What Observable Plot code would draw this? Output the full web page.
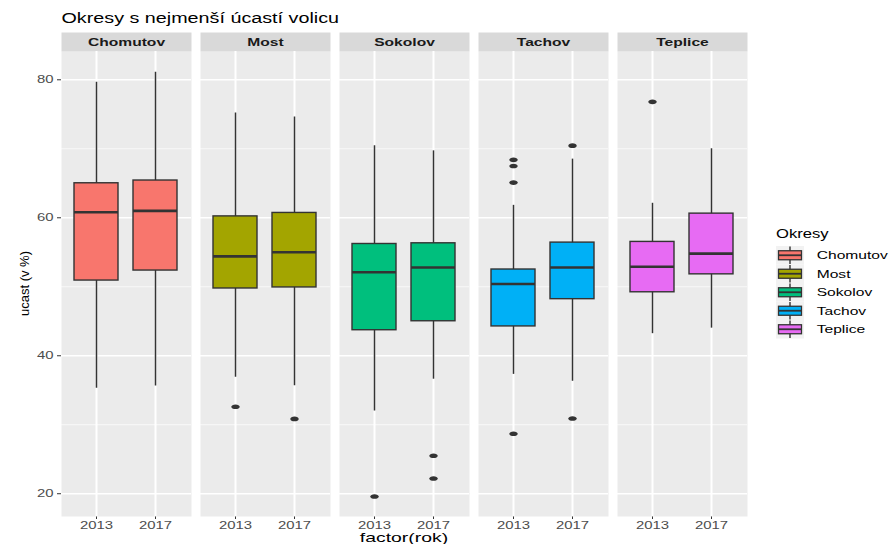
<!DOCTYPE html>
<html><head><meta charset="utf-8">
<script src="https://cdn.jsdelivr.net/npm/d3@7"></script>
<script src="https://cdn.jsdelivr.net/npm/@observablehq/plot@0.6"></script>
<style>
body{margin:0;background:#fff;}
#wrap{position:relative;width:889px;height:544px;font-family:"Liberation Sans",Arial,sans-serif;}
#wrap svg{position:absolute;left:0;top:0;overflow:visible;}
</style></head><body><div id="wrap"></div>
<script>
// ---- data ----
const districts = ["Chomutov","Most","Sokolov","Tachov","Teplice"];
const years = ["2013","2017"];
const colors = ["#F8766D","#A3A500","#00BF7D","#00B0F6","#E76BF3"];

const boxDistrict = ["Chomutov","Chomutov","Most","Most","Sokolov","Sokolov","Tachov","Tachov","Teplice","Teplice"];
const boxYear     = ["2013","2017","2013","2017","2013","2017","2013","2017","2013","2017"];
const whiskerLow  = [35.3, 35.6, 36.9, 35.65, 32.0, 36.6, 37.3, 36.3, 43.2, 44.0];
const q1          = [50.9, 52.35, 49.75, 49.9, 43.7, 45.0, 44.25, 48.2, 49.2, 51.8];
const median      = [60.8, 61.0, 54.4, 55.0, 52.1, 52.8, 50.4, 52.8, 52.9, 54.8];
const q3          = [65.0, 65.4, 60.2, 60.7, 56.2, 56.3, 52.5, 56.4, 56.5, 60.6];
const whiskerHigh = [79.65, 81.1, 75.2, 74.6, 70.45, 69.7, 61.8, 68.5, 62.1, 70.0];

const outDistrict = ["Most","Most","Sokolov","Sokolov","Sokolov","Tachov","Tachov","Tachov","Tachov","Tachov","Tachov","Teplice"];
const outYear     = ["2013","2017","2013","2017","2017","2013","2013","2013","2013","2017","2017","2013"];
const outValue    = [32.6, 30.85, 19.6, 25.5, 22.2, 68.4, 67.5, 65.1, 28.7, 70.45, 30.9, 76.8];

const yTicks = [20, 40, 60, 80];
const yMinor = [30, 50, 70];

// ---- tables built from arrays ----
const boxes = boxDistrict.map((d, i) => ({district: d, year: boxYear[i], lo: whiskerLow[i], q1: q1[i], med: median[i], q3: q3[i], hi: whiskerHigh[i]}));
const outliers = outDistrict.map((d, i) => ({district: d, year: outYear[i], value: outValue[i]}));

// ---- layout ----
const W = 889, H = 544;
const mTop = 51, mBottom = 28, mLeft = 61, mRight = 142;
const stripH = 19;
const panelH = H - mTop - mBottom;
const SX = 1.42; // horizontal text stretch seen in the reference

const ellipse = {
  draw(ctx, size) {
    const r = Math.sqrt(size / Math.PI);
    const rx = r * 1.45, ry = r * 0.8, k = 0.5523;
    ctx.moveTo(rx, 0);
    ctx.bezierCurveTo(rx, ry * k, rx * k, ry, 0, ry);
    ctx.bezierCurveTo(-rx * k, ry, -rx, ry * k, -rx, 0);
    ctx.bezierCurveTo(-rx, -ry * k, -rx * k, -ry, 0, -ry);
    ctx.bezierCurveTo(rx * k, -ry, rx, -ry * k, rx, 0);
    ctx.closePath();
  }
};

const plot = Plot.plot({
  width: W, height: H,
  marginTop: mTop, marginBottom: mBottom, marginLeft: mLeft, marginRight: mRight,
  style: {fontFamily: '"Liberation Sans", Arial, sans-serif', fontSize: "10.5px", background: "transparent", color: "#333333"},
  fx: {domain: districts, paddingInner: 9 / 139, paddingOuter: 0, axis: null, label: null},
  x: {type: "band", domain: years, paddingInner: 0.25, paddingOuter: 0.225, label: null, tickSize: 3, tickPadding: 2},
  y: {domain: [16.7, 84.1], ticks: yTicks, label: null, tickSize: 4, tickPadding: 4},
  color: {domain: districts, range: colors},
  marks: [
    Plot.frame({fill: "#EBEBEB"}),
    Plot.frame({fill: "#D9D9D9", insetTop: -stripH, insetBottom: panelH}),
    Plot.ruleY(yMinor, {stroke: "white", strokeWidth: 0.7}),
    Plot.ruleY(yTicks, {stroke: "white", strokeWidth: 1.4}),
    Plot.ruleX(years, {x: d => d, stroke: "white", strokeWidth: 2}),
    Plot.text(districts, {fx: d => d, text: d => d, frameAnchor: "top", lineAnchor: "middle", dy: -stripH / 2, fontWeight: "bold", fontSize: 11, fill: "#1A1A1A"}),
    Plot.ruleX(boxes, {fx: "district", x: "year", y1: "lo", y2: "hi", stroke: "#333333", strokeWidth: 1.5}),
    Plot.barY(boxes, {fx: "district", x: "year", y1: "q1", y2: "q3", fill: "district", stroke: "#333333", strokeWidth: 1.4}),
    Plot.tickY(boxes, {fx: "district", x: "year", y: "med", stroke: "#333333", strokeWidth: 2.6}),
    Plot.dot(outliers, {fx: "district", x: "year", y: "value", r: 2.9, symbol: ellipse, fill: "#333333", stroke: "none"})
  ]
});

const wrap = document.getElementById("wrap");
wrap.appendChild(plot);

// axis label colours
d3.select(plot).selectAll('g[aria-label="y-axis tick label"] text, g[aria-label="x-axis tick label"] text, g[aria-label="y-axis"] text, g[aria-label="x-axis"] text').attr("fill", "#4D4D4D");

// stretch text horizontally about its own anchor point
function stretch(el, sx) {
  const x = (el.x && el.x.baseVal && el.x.baseVal.length) ? el.x.baseVal[0].value : 0;
  const y = (el.y && el.y.baseVal && el.y.baseVal.length) ? el.y.baseVal[0].value : 0;
  const t = el.getAttribute("transform") || "";
  const xs = isFinite(x) ? x : 0, ys = isFinite(y) ? y : 0;
  el.setAttribute("transform", `${t} translate(${xs},${ys}) scale(${sx},1) translate(${-xs},${-ys})`);
}
plot.querySelectorAll("text").forEach(t => stretch(t, SX));

// ---- overlay: title, axis titles, legend ----
const ov = d3.select(wrap).append("svg").attr("width", W).attr("height", H)
  .style("font-family", '"Liberation Sans", Arial, sans-serif');

ov.append("text").attr("x", 61.5).attr("y", 23.3).attr("font-size", 14).attr("fill", "#000")
  .text("Okresy s nejmenší úcastí volicu").each(function(){ stretch(this, 1.41); });

ov.append("text").attr("x", (mLeft + W - mRight) / 2).attr("y", 542.5).attr("text-anchor", "middle")
  .attr("font-size", 12.5).attr("fill", "#000").text("factor(rok)").each(function(){ stretch(this, 1.55); });

ov.append("text").attr("transform", `translate(28.5,${mTop + panelH / 2}) rotate(-90)`).attr("text-anchor", "middle")
  .attr("font-size", 13).attr("fill", "#000").text("ucast (v %)");

// legend
const lg = ov.append("g");
lg.append("text").attr("x", 776).attr("y", 238.5).attr("font-size", 12.5).attr("fill", "#000").text("Okresy")
  .each(function(){ stretch(this, 1.33); });
const keyTop = 246, keyH = 18.5, keyX0 = 776, keyX1 = 804;
districts.forEach((d, i) => {
  const y0 = keyTop + i * keyH, cy = y0 + keyH / 2, cx = (keyX0 + keyX1) / 2;
  lg.append("rect").attr("x", keyX0).attr("y", y0).attr("width", keyX1 - keyX0).attr("height", keyH).attr("fill", "#F2F2F2");
  lg.append("line").attr("x1", cx).attr("x2", cx).attr("y1", y0 + 0.5).attr("y2", y0 + keyH - 0.5).attr("stroke", "#333").attr("stroke-width", 1.4);
  lg.append("rect").attr("x", 778.5).attr("y", cy - 4.5).attr("width", 23).attr("height", 9).attr("fill", colors[i]).attr("stroke", "#333").attr("stroke-width", 1.3);
  lg.append("line").attr("x1", 778.5).attr("x2", 801.5).attr("y1", cy).attr("y2", cy).attr("stroke", "#333").attr("stroke-width", 1.8);
  lg.append("text").attr("x", 816.7).attr("y", cy).attr("dy", "0.36em").attr("font-size", 11).attr("fill", "#000").text(d)
    .each(function(){ stretch(this, 1.42); });
});
</script>
</body></html>
